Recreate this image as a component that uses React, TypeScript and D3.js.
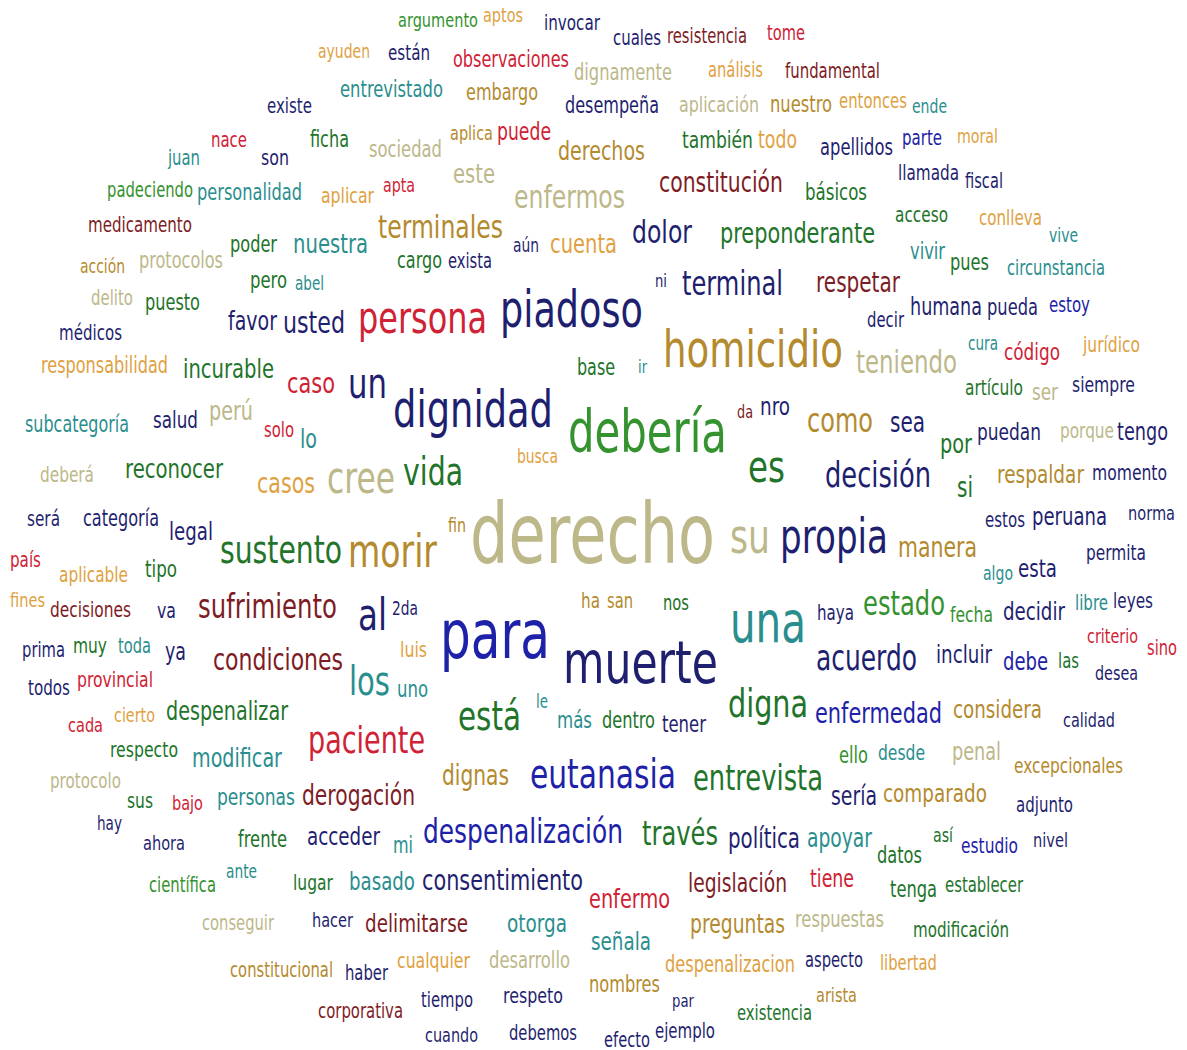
import React, { useMemo } from 'react';
import * as d3 from 'd3';

// each word: text, left edge, right edge, baseline, colour group
type Word = [string, number, number, number, number];

const palette = [
  '#1f1f70', // navy
  '#1e22a8', // blue
  '#34922f', // green
  '#22742a', // dark green
  '#2a8e8e', // teal
  '#d02235', // red
  '#7e1c25', // maroon
  '#b48a2e', // gold
  '#e0a142', // orange
  '#bcb88a', // khaki
];

const topWords: Word[] = [
  ['argumento', 398, 478, 27, 2], ['aptos', 483, 523, 22, 8], ['invocar', 544, 600, 30, 0],
  ['cuales', 613, 661, 45, 0], ['resistencia', 667, 747, 43, 6], ['tome', 767, 805, 40, 5],
  ['ayuden', 318, 370, 58, 8], ['están', 388, 430, 60, 0], ['observaciones', 453, 569, 67, 5],
  ['dignamente', 574, 672, 80, 9], ['análisis', 708, 763, 77, 8], ['fundamental', 785, 880, 78, 6],
  ['entrevistado', 340, 443, 97, 4], ['embargo', 466, 538, 100, 7], ['existe', 267, 312, 113, 0],
  ['desempeña', 565, 659, 113, 0], ['aplicación', 679, 759, 112, 9], ['nuestro', 770, 832, 112, 7],
  ['entonces', 839, 907, 108, 8], ['ende', 912, 947, 113, 4], ['nace', 211, 247, 147, 5],
  ['ficha', 310, 349, 147, 3], ['sociedad', 369, 442, 157, 9], ['aplica', 450, 493, 140, 7],
  ['puede', 497, 551, 140, 5], ['también', 682, 753, 148, 3], ['todo', 758, 797, 148, 8],
  ['parte', 902, 942, 145, 1], ['moral', 957, 998, 143, 8], ['derechos', 558, 645, 160, 7],
  ['apellidos', 820, 893, 155, 0], ['juan', 168, 200, 165, 4], ['son', 261, 289, 165, 0],
  ['este', 453, 495, 183, 9], ['llamada', 898, 959, 180, 0], ['fiscal', 965, 1003, 188, 0],
  ['constitución', 659, 783, 192, 6], ['apta', 383, 415, 192, 5], ['padeciendo', 107, 193, 197, 2],
  ['personalidad', 197, 302, 200, 4], ['aplicar', 321, 374, 203, 8], ['básicos', 805, 867, 200, 3],
];

const upperWords: Word[] = [
  ['enfermos', 514, 625, 208, 9], ['acceso', 895, 948, 222, 3], ['conlleva', 979, 1042, 225, 8],
  ['medicamento', 88, 192, 232, 6], ['terminales', 378, 503, 238, 7], ['dolor', 632, 692, 243, 0],
  ['preponderante', 720, 875, 243, 3], ['vive', 1049, 1078, 242, 4], ['poder', 230, 277, 252, 3],
  ['nuestra', 293, 368, 253, 4], ['aún', 513, 539, 252, 0], ['cuenta', 550, 617, 253, 8],
  ['vivir', 910, 945, 259, 4], ['pues', 950, 989, 270, 3], ['circunstancia', 1007, 1105, 275, 4],
  ['acción', 80, 125, 273, 7], ['protocolos', 139, 223, 268, 9], ['cargo', 397, 442, 268, 3],
  ['exista', 448, 492, 268, 0], ['ni', 655, 667, 287, 0], ['terminal', 682, 783, 295, 0],
  ['pero', 250, 287, 288, 3], ['abel', 295, 324, 290, 4], ['respetar', 816, 900, 292, 6],
  ['delito', 91, 133, 305, 9], ['puesto', 145, 200, 310, 3], ['humana', 910, 982, 315, 0],
  ['pueda', 987, 1038, 315, 0], ['estoy', 1049, 1090, 312, 1], ['decir', 867, 904, 327, 0],
  ['favor', 228, 277, 330, 0], ['usted', 283, 345, 333, 0], ['persona', 358, 487, 333, 5],
  ['piadoso', 500, 643, 327, 0], ['médicos', 59, 122, 340, 0], ['cura', 968, 998, 350, 4],
  ['código', 1004, 1060, 360, 5], ['jurídico', 1083, 1140, 352, 8], ['homicidio', 663, 843, 367, 7],
  ['responsabilidad', 41, 168, 373, 8], ['incurable', 183, 274, 378, 3], ['base', 577, 615, 375, 3],
  ['ir', 638, 647, 373, 4], ['teniendo', 856, 957, 373, 9], ['caso', 287, 335, 393, 5],
  ['artículo', 965, 1023, 395, 3], ['ser', 1032, 1058, 400, 9], ['siempre', 1072, 1135, 392, 0],
  ['un', 348, 387, 398, 0],
];

const middleWords: Word[] = [
  ['dignidad', 393, 553, 427, 0], ['subcategoría', 25, 129, 432, 4], ['salud', 153, 198, 428, 0],
  ['perú', 209, 253, 420, 9], ['solo', 264, 294, 437, 5], ['lo', 300, 317, 448, 4],
  ['debería', 568, 727, 452, 2], ['da', 737, 753, 418, 6], ['nro', 760, 790, 415, 0],
  ['como', 807, 873, 432, 7], ['sea', 890, 925, 432, 0], ['puedan', 977, 1041, 440, 0],
  ['porque', 1060, 1114, 438, 9], ['tengo', 1117, 1168, 440, 0], ['por', 940, 972, 453, 3],
  ['busca', 517, 558, 463, 8], ['deberá', 40, 94, 482, 9], ['reconocer', 125, 223, 478, 3],
  ['casos', 257, 315, 493, 8], ['cree', 327, 395, 493, 9], ['vida', 403, 463, 485, 3],
  ['es', 748, 785, 482, 3], ['decisión', 825, 931, 487, 0], ['si', 957, 973, 497, 3],
  ['respaldar', 997, 1084, 483, 7], ['momento', 1092, 1167, 480, 0], ['será', 27, 60, 526, 0],
  ['categoría', 83, 159, 526, 0], ['legal', 169, 213, 540, 0], ['estos', 985, 1025, 527, 0],
  ['peruana', 1032, 1107, 525, 0], ['norma', 1128, 1175, 520, 0], ['fin', 448, 466, 532, 7],
  ['derecho', 470, 715, 563, 9], ['su', 730, 770, 553, 9], ['propia', 780, 888, 553, 0],
  ['sustento', 220, 342, 563, 3], ['morir', 348, 437, 567, 7], ['manera', 898, 977, 557, 7],
  ['permita', 1086, 1146, 560, 0], ['país', 10, 41, 567, 5], ['algo', 983, 1013, 580, 4],
  ['esta', 1018, 1057, 577, 0], ['aplicable', 59, 128, 582, 8], ['tipo', 145, 177, 577, 3],
];

const lowerWords: Word[] = [
  ['fines', 10, 45, 607, 8], ['decisiones', 50, 131, 617, 6], ['va', 157, 176, 618, 0],
  ['sufrimiento', 198, 337, 618, 6], ['2da', 392, 418, 615, 0], ['ha', 581, 600, 608, 7],
  ['san', 607, 633, 608, 7], ['nos', 663, 689, 610, 3], ['libre', 1075, 1108, 610, 4],
  ['leyes', 1113, 1153, 608, 0], ['estado', 863, 945, 615, 2], ['haya', 817, 854, 620, 0],
  ['fecha', 950, 993, 622, 2], ['decidir', 1003, 1065, 620, 0], ['al', 358, 387, 630, 0],
  ['una', 730, 806, 642, 4], ['criterio', 1087, 1138, 643, 5], ['prima', 22, 65, 657, 0],
  ['muy', 73, 107, 653, 3], ['toda', 118, 151, 653, 4], ['ya', 165, 186, 660, 0],
  ['luis', 400, 427, 657, 8], ['para', 440, 550, 658, 1], ['sino', 1147, 1177, 655, 5],
  ['incluir', 936, 992, 663, 0], ['condiciones', 213, 343, 670, 6], ['acuerdo', 816, 917, 670, 0],
  ['debe', 1003, 1048, 670, 1], ['las', 1058, 1079, 668, 3], ['muerte', 563, 718, 683, 0],
  ['desea', 1095, 1138, 680, 0], ['provincial', 77, 153, 687, 5], ['todos', 28, 70, 695, 0],
  ['los', 349, 390, 695, 4], ['uno', 397, 428, 697, 4], ['le', 536, 548, 708, 4],
  ['digna', 728, 808, 717, 3], ['despenalizar', 166, 288, 720, 3], ['cierto', 114, 155, 722, 8],
  ['considera', 953, 1042, 718, 7], ['enfermedad', 815, 942, 723, 1], ['calidad', 1063, 1115, 727, 0],
  ['más', 557, 592, 728, 4], ['dentro', 602, 655, 728, 3], ['está', 458, 521, 730, 3],
  ['tener', 662, 706, 732, 0], ['cada', 68, 103, 732, 5], ['paciente', 308, 425, 753, 5],
  ['respecto', 110, 178, 757, 3], ['ello', 839, 868, 763, 2], ['desde', 878, 925, 760, 4],
  ['penal', 952, 1001, 760, 9], ['modificar', 192, 282, 767, 4], ['excepcionales', 1014, 1123, 773, 7],
  ['dignas', 442, 509, 785, 7], ['eutanasia', 530, 676, 788, 1], ['entrevista', 693, 823, 790, 3],
  ['protocolo', 50, 121, 788, 9],
];

const bottomWords: Word[] = [
  ['sería', 831, 877, 805, 0], ['comparado', 883, 987, 802, 7], ['adjunto', 1016, 1073, 812, 0],
  ['personas', 217, 295, 805, 4], ['derogación', 302, 415, 805, 6], ['sus', 127, 153, 808, 3],
  ['bajo', 172, 203, 810, 5], ['hay', 97, 122, 830, 0], ['despenalización', 423, 623, 843, 1],
  ['través', 642, 718, 845, 3], ['política', 728, 800, 848, 0], ['apoyar', 807, 872, 847, 4],
  ['así', 933, 953, 842, 3], ['nivel', 1033, 1068, 847, 0], ['acceder', 307, 380, 845, 0],
  ['frente', 238, 287, 847, 3], ['ahora', 143, 185, 850, 0], ['mi', 393, 413, 853, 4],
  ['estudio', 961, 1018, 853, 1], ['datos', 877, 922, 863, 3], ['ante', 226, 257, 878, 4],
  ['tiene', 810, 854, 887, 5], ['científica', 149, 216, 892, 2], ['lugar', 293, 333, 890, 3],
  ['basado', 349, 415, 890, 4], ['consentimiento', 422, 583, 890, 0], ['legislación', 688, 787, 892, 6],
  ['establecer', 945, 1023, 892, 3], ['tenga', 890, 937, 897, 3], ['enfermo', 589, 670, 908, 5],
  ['hacer', 312, 353, 927, 0], ['respuestas', 795, 884, 927, 9], ['conseguir', 202, 274, 930, 9],
  ['delimitarse', 365, 468, 932, 6], ['otorga', 507, 567, 932, 4], ['preguntas', 690, 785, 933, 7],
  ['modificación', 913, 1009, 937, 3], ['señala', 591, 651, 950, 4], ['aspecto', 805, 863, 967, 0],
  ['cualquier', 397, 470, 968, 8], ['desarrollo', 489, 570, 968, 9], ['libertad', 880, 937, 970, 8],
  ['despenalizacion', 665, 795, 972, 8], ['constitucional', 230, 333, 977, 7], ['haber', 345, 388, 980, 0],
  ['nombres', 589, 660, 992, 7], ['arista', 816, 857, 1002, 7], ['respeto', 503, 563, 1003, 0],
  ['tiempo', 421, 473, 1007, 0], ['par', 672, 694, 1007, 0], ['corporativa', 318, 403, 1018, 6],
  ['existencia', 737, 812, 1020, 3], ['debemos', 509, 577, 1040, 0], ['cuando', 425, 478, 1042, 0],
  ['ejemplo', 655, 715, 1038, 0], ['efecto', 604, 650, 1047, 0],
];

const FONT = '"DejaVu Sans", Verdana, sans-serif';
const SQUEEZE = 0.72; // glyphs in the reference are narrow

const App: React.FC = () => {
  const width = 1187;
  const height = 1050;

  const words = useMemo(() => [...topWords, ...upperWords, ...middleWords, ...lowerWords, ...bottomWords], []);

  const x = d3.scaleLinear().domain([0, 1187]).range([0, width]);
  const y = d3.scaleLinear().domain([0, 1050]).range([0, height]);
  const color = d3.scaleOrdinal<number, string>().domain(d3.range(palette.length)).range(palette);

  // natural width of each word at 1px, so the font size follows the measured width
  const unit = useMemo(() => {
    const ctx = document.createElement('canvas').getContext('2d')!;
    ctx.font = `100px ${FONT}`;
    return words.map(w => ctx.measureText(w[0]).width / 100);
  }, [words]);

  return (
    <svg width={width} height={height} style={{ position: 'absolute', left: 0, top: 0, background: '#fff' }}>
      <rect width={width} height={height} fill="#fff" />
      {words.map((w, i) => {
        const [text, l, r, b, c] = w;
        const len = x(r) - x(l);
        const size = len / (unit[i] * SQUEEZE);
        return (
          <text
            key={text + i}
            x={x(l)}
            y={y(b)}
            fontFamily={FONT}
            fontSize={size}
            textLength={len}
            lengthAdjust="spacingAndGlyphs"
            fill={color(c)}
          >
            {text}
          </text>
        );
      })}
    </svg>
  );
};

export default App;
